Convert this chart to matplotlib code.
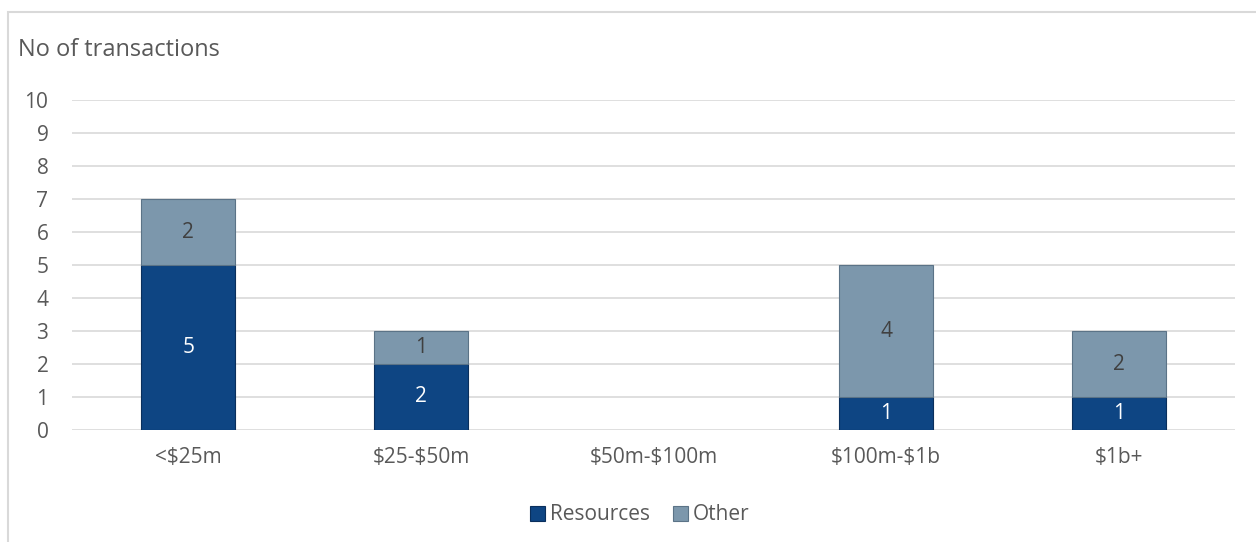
import matplotlib
matplotlib.use("Agg")
import matplotlib.pyplot as plt
from matplotlib.patches import Rectangle

plt.rcParams["font.family"] = ["Open Sans", "DejaVu Sans"]
plt.rcParams["text.parse_math"] = False

categories = ["<$25m", "$25-$50m", "$50m-$100m", "$100m-$1b", "$1b+"]
resources = [5, 2, 0, 1, 1]
other = [2, 1, 0, 4, 2]

TXT = "#595959"
C_RES = "#0E4583"
C_OTH = "#7C97AC"

fig = plt.figure(figsize=(12.56, 5.42), dpi=100)
# outer chart frame
fig.patches.append(Rectangle((8 / 1256, -0.1), 1.2, 1 - 12 / 542 + 0.1,
                             transform=fig.transFigure, fill=False,
                             edgecolor="#D9D9D9", linewidth=1.5))

ax = fig.add_axes([72 / 1256, 1 - 430 / 542, (1235 - 72) / 1256, 330 / 542])
x = range(len(categories))
w = 0.405
b1 = ax.bar(x, resources, width=w, color=C_RES, edgecolor="#0A2F5C",
            linewidth=[0.8 if v else 0 for v in resources], label="Resources", zorder=3)
b2 = ax.bar(x, other, width=w, bottom=resources, color=C_OTH, edgecolor="#5B7387",
            linewidth=[0.8 if v else 0 for v in other], label="Other", zorder=3)

for i in x:
    if resources[i]:
        ax.text(i, resources[i] / 2, str(resources[i]), ha="center", va="center",
                color="white", fontsize=15, zorder=4)
    if other[i]:
        ax.text(i, resources[i] + other[i] / 2, str(other[i]), ha="center",
                va="center", color="#404040", fontsize=15, zorder=4)

ax.set_xlim(-0.5, len(categories) - 0.5)
ax.set_ylim(0, 10)
ax.set_yticks(range(0, 11))
ax.set_xticks(list(x))
ax.set_xticklabels(categories)
ax.yaxis.grid(True, color="#D9D9D9", linewidth=1.2, zorder=0)
ax.set_axisbelow(True)
for s in ax.spines.values():
    s.set_visible(False)
ax.tick_params(length=0, labelsize=15, labelcolor=TXT)
ax.tick_params(axis="x", pad=12)
ax.tick_params(axis="y", pad=17)

fig.text(18 / 1256, 1 - 50 / 542, "No of transactions", fontsize=17, color=TXT,
         va="center", ha="left")

fig.legend(handles=[b1, b2], loc="center", bbox_to_anchor=(640 / 1256, 1 - 515 / 542),
           ncol=2, frameon=False, fontsize=15, labelcolor=TXT,
           handlelength=0.7, handleheight=0.7, handletextpad=0.25, columnspacing=1.1)

fig.savefig("out.png", dpi=100)
